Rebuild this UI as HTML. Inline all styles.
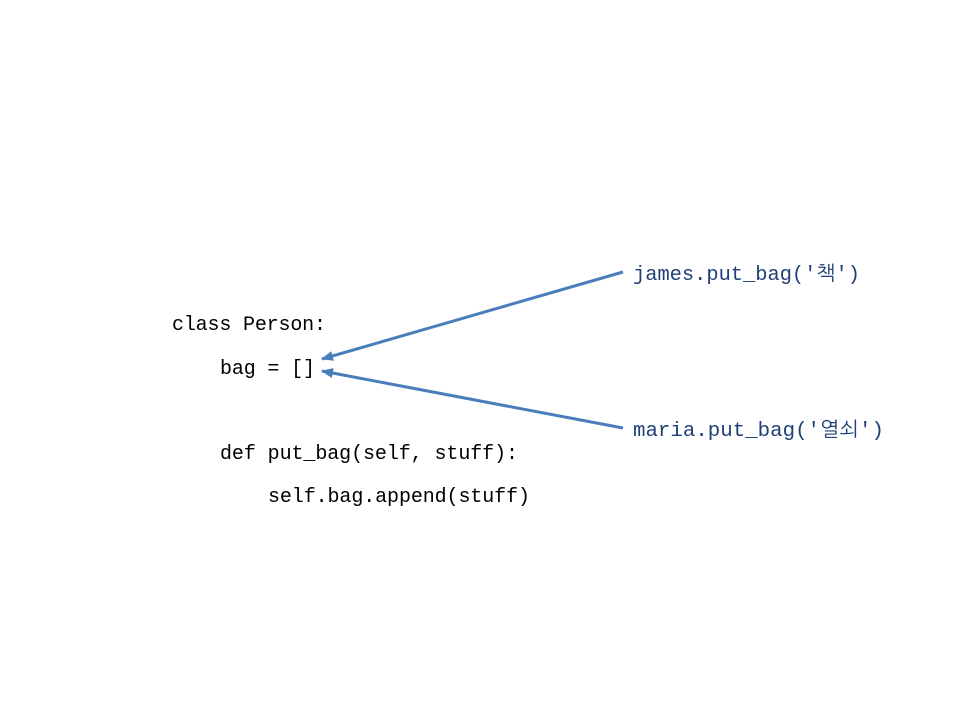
<!DOCTYPE html>
<html><head><meta charset="utf-8"><style>
html,body{margin:0;padding:0;background:#fff;width:960px;height:720px;overflow:hidden}
text{font-family:"Liberation Mono","NanumGothic","Noto Sans CJK KR",monospace;font-size:20px}
</style></head><body>
<svg width="960" height="720" xmlns="http://www.w3.org/2000/svg">
<defs><marker id="a" markerWidth="12" markerHeight="10" refX="11" refY="5" orient="auto" markerUnits="userSpaceOnUse"><path d="M0,0 L12,5 L0,10 z" fill="#4a7ebb"/></marker></defs>
<g fill="#000">
<text x="172" y="330" textLength="154">class Person:</text>
<text x="220" y="374" textLength="95">bag = []</text>
<text x="220" y="459" textLength="298">def put_bag(self, stuff):</text>
<text x="268" y="502" textLength="262">self.bag.append(stuff)</text>
</g>
<g fill="#1f3f77">
<text x="633" y="280" textLength="227" lengthAdjust="spacingAndGlyphs">james.put_bag('책')</text>
<text x="633" y="436" textLength="251" lengthAdjust="spacingAndGlyphs">maria.put_bag('열쇠')</text>
</g>
<line x1="623" y1="272" x2="322" y2="359" stroke="#4a7ebb" stroke-width="3" marker-end="url(#a)"/>
<line x1="623" y1="428" x2="322" y2="371" stroke="#4a7ebb" stroke-width="3" marker-end="url(#a)"/>
</svg>
</body></html>
